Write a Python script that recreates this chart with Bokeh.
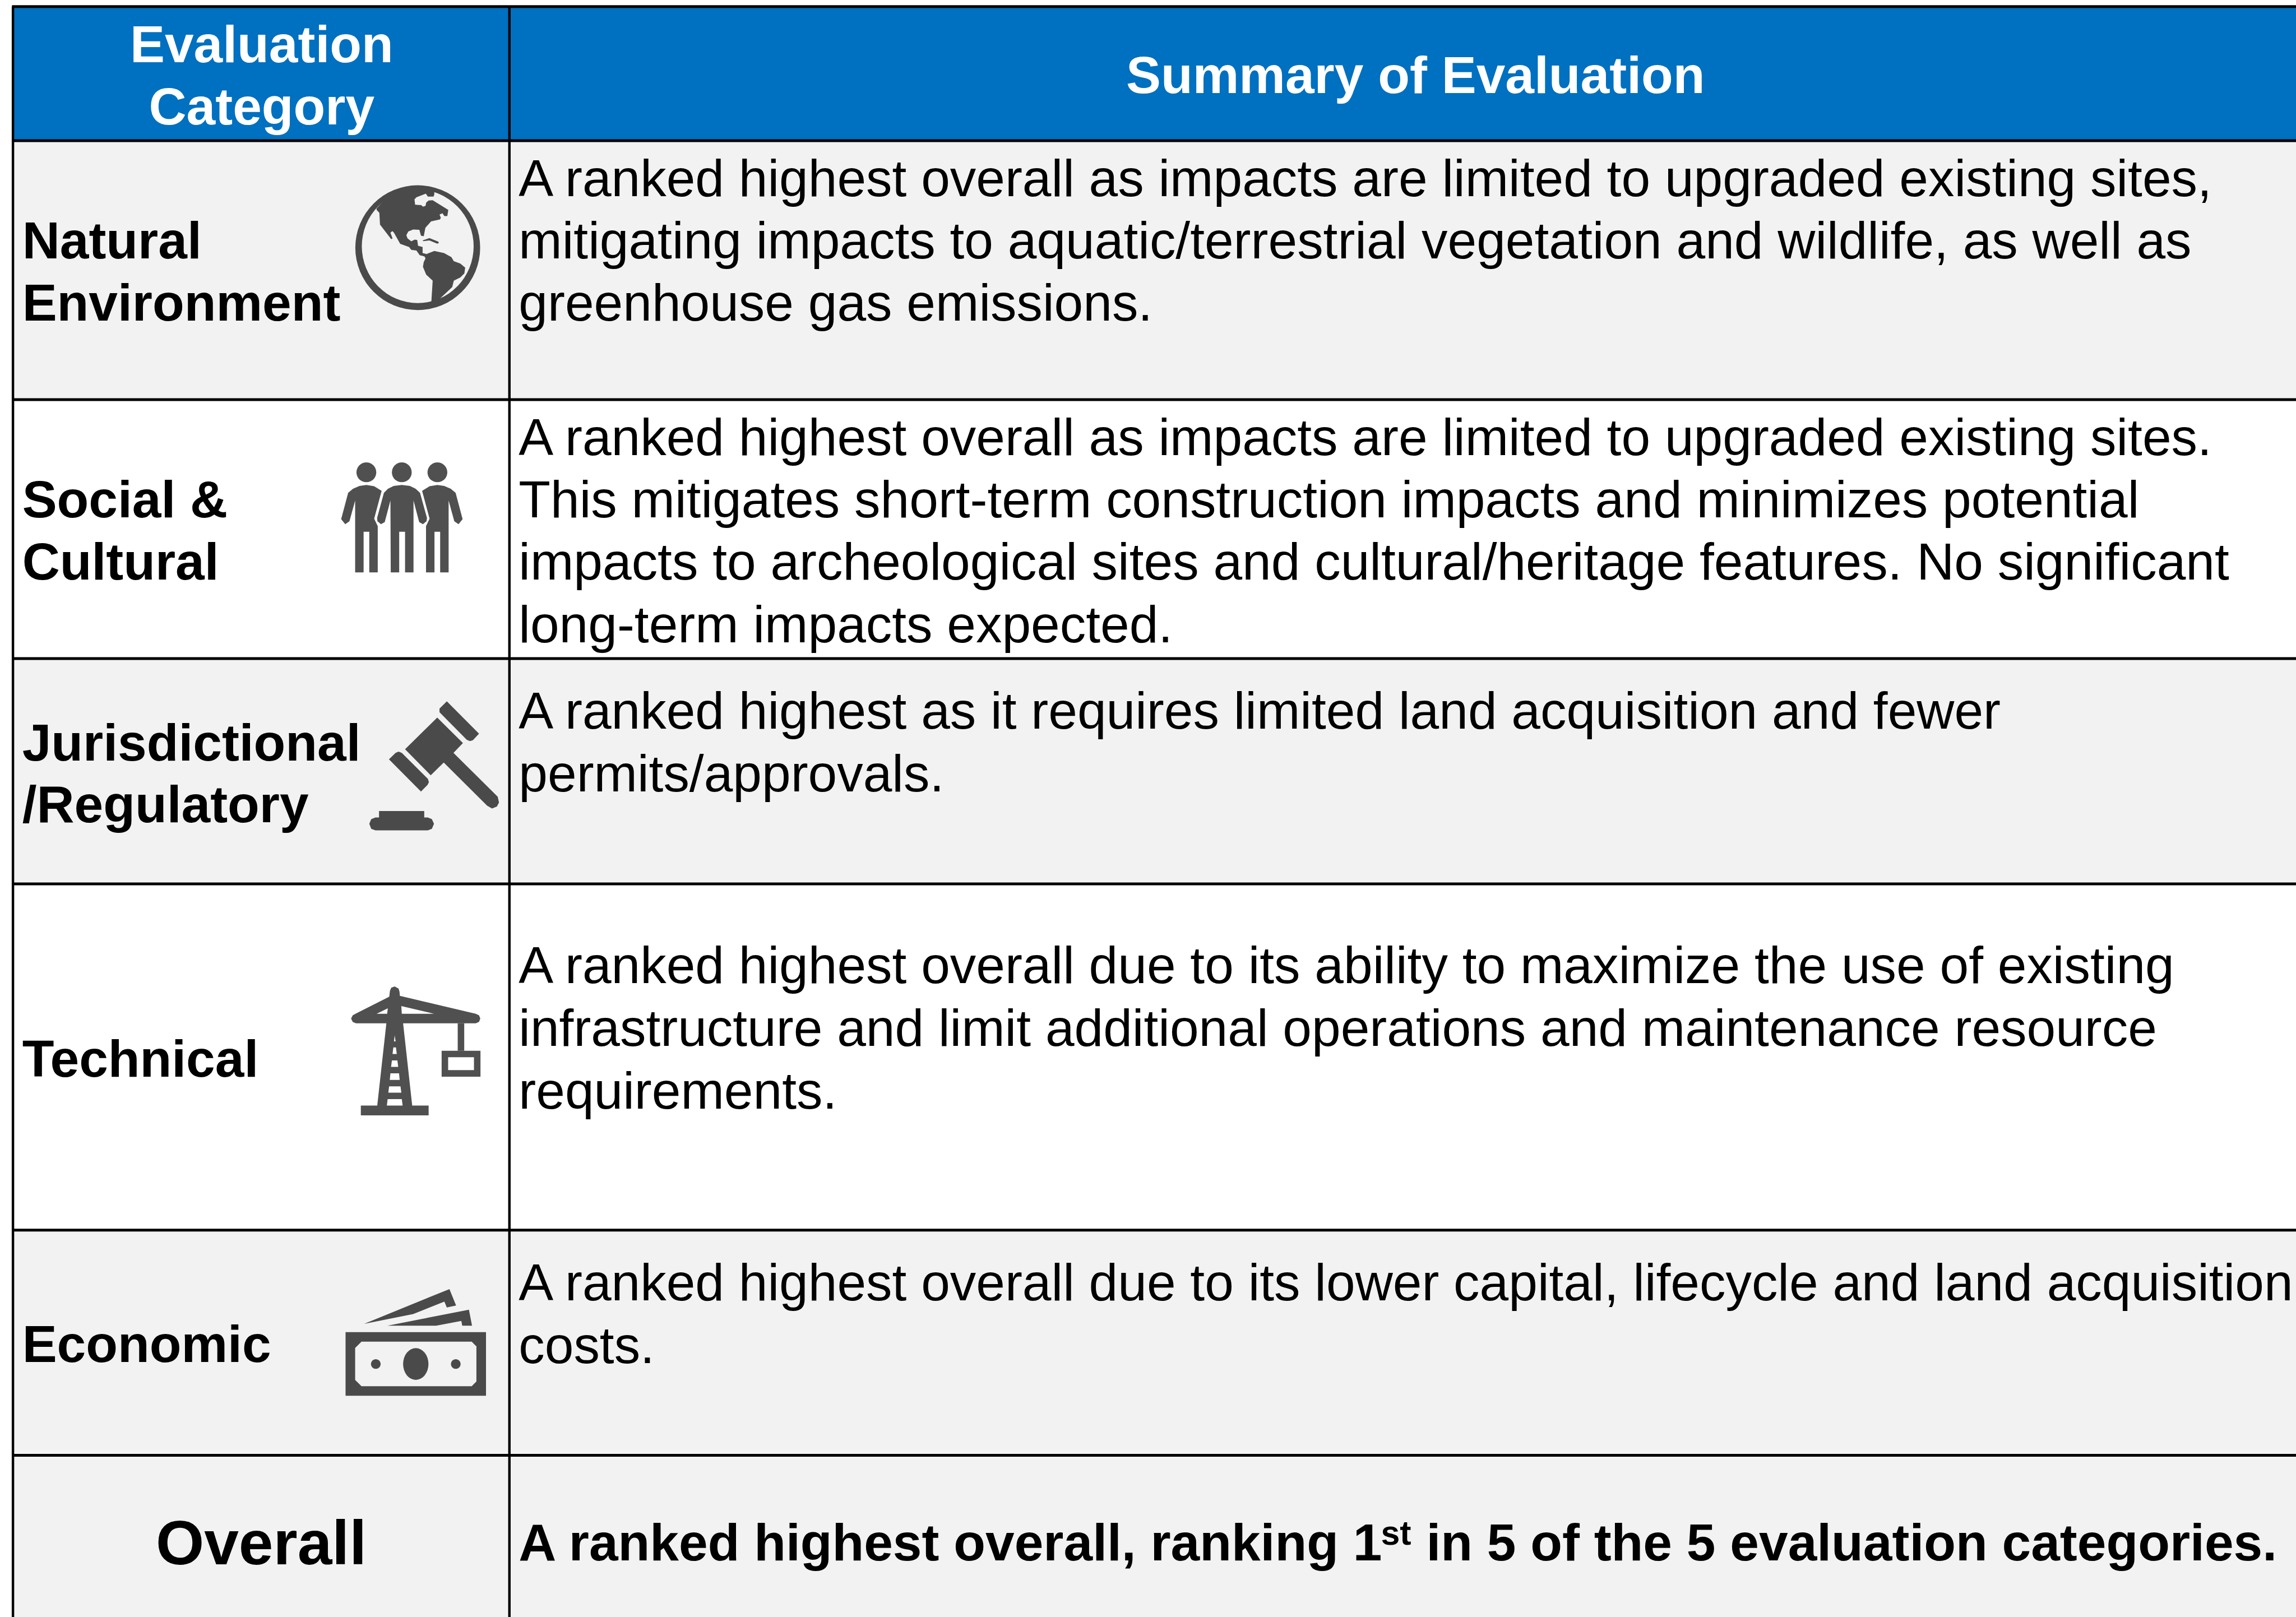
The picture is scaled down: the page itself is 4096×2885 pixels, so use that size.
from bokeh.plotting import figure
from bokeh.embed import file_html
from bokeh.resources import INLINE
from bokeh.core.properties import value
from bokeh.models import Range1d

# ---------- table content ----------
header_left = ["Evaluation", "Category"]
header_right = ["Summary of Evaluation"]
categories = [
    ["Natural", "Environment"],
    ["Social &", "Cultural"],
    ["Jurisdictional", "/Regulatory"],
    ["Technical"],
    ["Economic"],
]
summaries = [
    ["A ranked highest overall as impacts are limited to upgraded existing sites,",
     "mitigating impacts to aquatic/terrestrial vegetation and wildlife, as well as",
     "greenhouse gas emissions."],
    ["A ranked highest overall as impacts are limited to upgraded existing sites.",
     "This mitigates short-term construction impacts and minimizes potential",
     "impacts to archeological sites and cultural/heritage features. No significant",
     "long-term impacts expected."],
    ["A ranked highest as it requires limited land acquisition and fewer",
     "permits/approvals."],
    ["A ranked highest overall due to its ability to maximize the use of existing",
     "infrastructure and limit additional operations and maintenance resource",
     "requirements."],
    ["A ranked highest overall due to its lower capital, lifecycle and land acquisition",
     "costs."],
]
overall_label = "Overall"
overall_parts = ["A ranked highest overall, ranking 1", "st", "in 5 of the 5 evaluation categories."]

# ---------- layout (reference pixels) ----------
S = 0.87
W, H = 4096, 2885
row_edges = [13, 288, 819, 1350, 1812, 2522, 2984, 3330]
row_fills = ["#0070c0", "#f2f2f2", "#ffffff", "#f2f2f2", "#ffffff", "#f2f2f2", "#f2f2f2"]
col_left, col_mid, col_right = 26, 1044, 4730
cat_base = [[529, 657], [1060, 1188], [1559, 1685], [2207], [2792]]
sum_base = [[401, 529, 657], [932, 1060, 1188, 1316], [1493, 1622], [2015, 2144, 2273], [2666, 2794]]
FONT = value("Liberation Sans")
BODY = 106.8
BASE_K = 0.34

p = figure(width=W, height=H, toolbar_location=None, output_backend="svg",
           x_range=Range1d(0, W / S), y_range=Range1d(H / S, 0),
           min_border=0, outline_line_color=None)
p.axis.visible = False
p.grid.visible = False
p.background_fill_color = "#ffffff"
p.border_fill_color = "#ffffff"

# cells
p.quad(left=col_left, right=col_right, top=row_edges[:-1], bottom=row_edges[1:],
       fill_color=row_fills, line_color=None)

# rules
for y in row_edges[:-1]:
    p.line([col_left - 2, col_right], [y, y], line_color="black", line_width=5.0)
for x in (col_left, col_mid):
    p.line([x, x], [row_edges[0], row_edges[-1]], line_color="black", line_width=4.4)


def put(x, y, s, size=BODY, bold=False, align="left", color="black"):
    p.text([x], [y - BASE_K * size], text=[s], text_font=FONT, text_font_size=f"{size * S:.1f}px",
           text_font_style="bold" if bold else "normal",
           text_align=align, text_baseline="alphabetic", text_color=color)


# header text
for s, y in zip(header_left, [127, 254]):
    put(536, y, s, bold=True, align="center", color="#ffffff")
put(2902, 190, header_right[0], bold=True, align="center", color="#ffffff")

# body text
for lines, ys in zip(categories, cat_base):
    for s, y in zip(lines, ys):
        put(45, y, s, bold=True)
for lines, ys in zip(summaries, sum_base):
    for s, y in zip(lines, ys):
        put(1063, y, s)

# overall row
put(535, 3207, overall_label, size=127.5, bold=True, align="center")
put(1063, 3199, overall_parts[0], bold=True)
put(2831, 3167, overall_parts[1], size=70, bold=True)
put(2924, 3199, overall_parts[2], bold=True)


# ---------- icons, traced at 3x crop coordinates ----------
def poly(pts, x0, y0, color):
    p.patch([x0 + a / 3 for a, b in pts], [y0 + b / 3 for a, b in pts],
            fill_color=color, line_color=None)


def oval(cx, cy, rx, ry, x0, y0, color):
    p.ellipse([x0 + cx / 3], [y0 + cy / 3], width=[2 * rx / 3], height=[2 * ry / 3],
              fill_color=color, line_color=None)


def rect(a, b, c, d, x0, y0, color):
    p.quad(left=[x0 + a / 3], right=[x0 + c / 3], top=[y0 + b / 3], bottom=[y0 + d / 3],
           fill_color=color, line_color=None)


# globe
G, BG = "#4a4a4a", "#f2f2f2"
gx, gy = 660, 340
oval(588, 502, 384, 384, gx, gy, G)
oval(588, 494, 344, 349, gx, gy, BG)
poly([(335, 270), (352, 288), (356, 360), (425, 450), (433, 445), (420, 410), (432, 400), (442, 410),
      (480, 478), (535, 498), (548, 515), (580, 520), (600, 548), (636, 558), (640, 540), (618, 535),
      (618, 498), (590, 490), (585, 455), (570, 452), (548, 463), (525, 445), (518, 425), (530, 402),
      (560, 390), (598, 392), (608, 428), (625, 432), (635, 380), (670, 340), (725, 328), (730, 318),
      (722, 298), (740, 290), (752, 308), (770, 308), (776, 270), (680, 210), (655, 212), (640, 225),
      (636, 245), (620, 250), (610, 240), (572, 238), (568, 205), (580, 192), (638, 170), (650, 188),
      (685, 188), (690, 175), (690, 140), (588, 125), (480, 140), (400, 190), (335, 260)], gx, gy, G)
poly([(640, 542), (690, 522), (750, 535), (795, 560), (810, 585), (850, 600), (880, 625), (875, 660),
      (850, 685), (810, 705), (800, 745), (720, 820), (700, 860), (672, 860), (672, 832), (680, 705),
      (640, 668), (620, 620), (625, 590), (636, 568), (630, 558)], gx, gy, G)
poly([(618, 458), (660, 443), (715, 465), (718, 473), (708, 477), (660, 458), (622, 462)], gx, gy, G)

# people
P = "#505050"
ax, ay = 660, 920
for cx in (272, 490, 709):
    oval(cx, 144, 61, 61, ax, ay, P)
left_person = [(272, 222), (320, 230), (366, 258), (320, 430), (342, 475), (342, 760), (290, 760), (290, 510),
               (255, 510), (255, 760), (203, 760), (203, 318), (168, 445), (142, 463), (117, 432), (160, 270),
               (190, 245), (230, 228)]
poly(left_person, ax, ay, P)
poly([(981 - a, b) for a, b in left_person], ax, ay, P)
poly([(490, 222), (440, 228), (405, 245), (380, 270), (338, 425), (340, 445), (362, 463), (385, 450),
      (420, 318), (422, 760), (474, 760), (474, 510), (510, 510), (510, 760), (562, 760), (562, 318),
      (597, 450), (620, 463), (642, 445), (645, 425), (602, 270), (575, 245), (540, 228)], ax, ay, P)

# gavel
vx, vy = 720, 1400
poly([(587, 113), (542, 158), (542, 180), (710, 350), (730, 358), (748, 352), (785, 312)], vx, vy, G)
poly([(528, 213), (330, 408), (488, 568), (568, 490), (835, 755), (865, 772), (895, 760), (908, 735),
      (900, 700), (628, 430), (686, 370)], vx, vy, G)
poly([(231, 470), (272, 430), (290, 422), (310, 430), (470, 590), (477, 610), (468, 628), (428, 668)], vx, vy, G)
poly([(170, 788), (448, 788), (448, 828), (470, 828), (495, 838), (508, 866), (495, 897), (470, 907),
      (148, 907), (122, 897), (110, 866), (122, 838), (148, 828), (170, 828)], vx, vy, G)

# crane
cx0, cy0 = 680, 1980
poly([(386, 127), (410, 140), (416, 160), (418, 185), (885, 295), (905, 305), (913, 325), (905, 345),
      (885, 354), (438, 354), (494, 860), (595, 860), (595, 920), (178, 920), (178, 860), (279, 860),
      (335, 354), (148, 354), (128, 345), (118, 325), (128, 305), (145, 295), (353, 190), (357, 155),
      (365, 135)], cx0, cy0, P)
for hole in ([(275, 295), (344, 262), (340, 295)], [(430, 295), (427, 248), (628, 295)],
             [(382, 465), (386, 428), (392, 465)], [(373, 543), (378, 502), (394, 502), (399, 543)],
             [(364, 622), (369, 582), (403, 582), (408, 622)], [(356, 702), (360, 662), (413, 662), (417, 702)],
             [(347, 781), (352, 742), (422, 742), (427, 781)], [(338, 860), (343, 820), (430, 820), (435, 860)]):
    poly(hole, cx0, cy0, "#ffffff")
rect(774, 354, 814, 523, cx0, cy0, P)
rect(675, 523, 914, 682, cx0, cy0, P)
rect(715, 563, 874, 642, cx0, cy0, "#ffffff")

# money
mx, my = 670, 2600
poly([(228, 343), (753, 129), (794, 230), (737, 242), (722, 206), (530, 283)], mx, my, G)
poly([(372, 354), (873, 256), (892, 354), (832, 354), (826, 325), (672, 354)], mx, my, G)
rect(114, 394, 978, 785, mx, my, G)
poly([(212, 453), (890, 453), (919, 482), (919, 697), (890, 727), (212, 727), (173, 688), (173, 491)], mx, my, BG)
oval(546, 590, 78, 98, mx, my, G)
oval(300, 590, 30, 30, mx, my, G)
oval(792, 590, 30, 30, mx, my, G)

open("out.html", "w").write(file_html(p, INLINE))
